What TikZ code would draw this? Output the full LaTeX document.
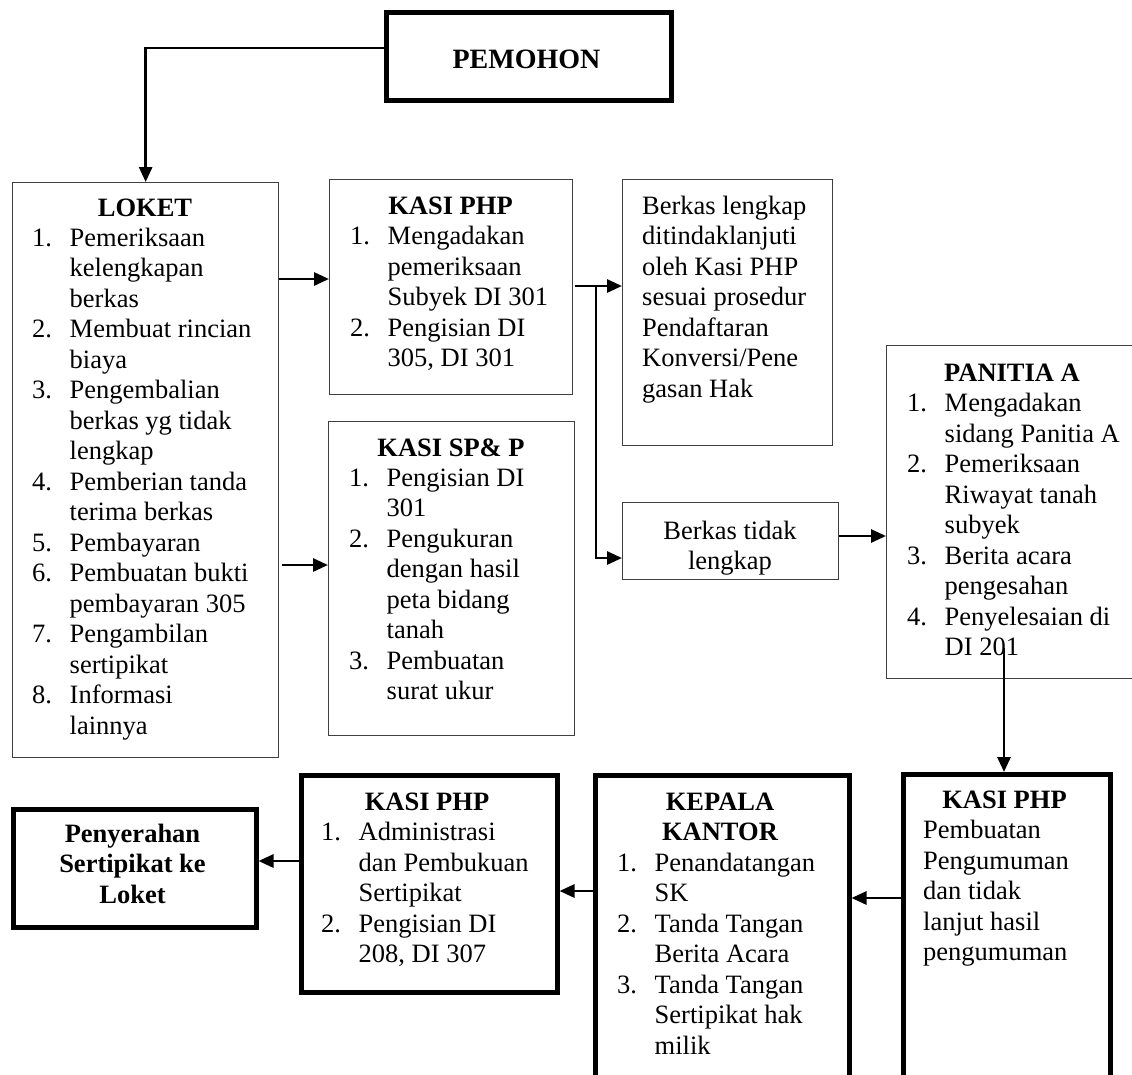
\documentclass[tikz,border=0pt]{standalone}
\usepackage{fontspec}
\setmainfont{Liberation Serif}
\usetikzlibrary{arrows.meta}
\newcommand{\mylist}[1]{\begin{tabular}[t]{@{}p{37.5pt}@{}l@{}}#1\end{tabular}}
\newcommand{\myleft}[1]{\begin{tabular}[t]{@{}l@{}}#1\end{tabular}}
\newcommand{\mycenter}[1]{\begin{tabular}[t]{@{}c@{}}#1\end{tabular}}
\begin{document}
\begin{tikzpicture}[x=1pt,y=-1pt,
  thinbox/.style={draw=black!75, line width=1.3pt, rectangle, anchor=north west, inner sep=0pt},
  thickbox/.style={draw=black, line width=4.5pt, rectangle, anchor=north west, inner sep=0pt},
  body/.style={font=\fontsize{26.5}{30.5}\selectfont, inner sep=0pt, anchor=base west},
  ttl/.style={font=\fontsize{26.5}{30.5}\selectfont\bfseries, inner sep=0pt, anchor=base},
  arr/.style={line width=2.8pt, -{Triangle[length=15pt,width=13pt]}},
  ln/.style={line width=2.8pt}
]
\useasboundingbox (0,0) rectangle (1132,1074);
\fill[white] (0,0) rectangle (1132,1074);
\clip (0,0) rectangle (1132,1074);

% boxes
\node[thickbox, line width=5pt, minimum width=285pt, minimum height=88pt] (pemohon) at (384,10) {};
\node[thinbox, minimum width=266pt, minimum height=575pt] (loket) at (12,182) {};
\node[thinbox, minimum width=243pt, minimum height=215pt] (kasi1) at (329,179) {};
\node[thinbox, minimum width=246pt, minimum height=314pt] (kasisp) at (328,421) {};
\node[thinbox, minimum width=210pt, minimum height=266pt] (lengkap) at (622,179) {};
\node[thinbox, minimum width=216pt, minimum height=77pt] (tidak) at (622,502) {};
\node[thinbox, minimum width=252pt, minimum height=333pt] (panitia) at (886,345) {};
\node[thickbox, minimum width=207pt, minimum height=340pt] (kasi3) at (901,772) {};
\node[thickbox, minimum width=254pt, minimum height=340pt] (kepala) at (593,773) {};
\node[thickbox, minimum width=256pt, minimum height=217pt] (kasi2) at (299,773) {};
\node[thickbox, minimum width=243pt, minimum height=118pt] (penyerahan) at (11,807) {};

% texts
\node[ttl, font=\fontsize{28}{32}\selectfont\bfseries] (tpem) at (526.5,68) {PEMOHON};

\node[ttl] (tlok) at (145,216) {LOKET};
\node[body] (llok) at (32,246) {\mylist{1. & Pemeriksaan\\ & kelengkapan\\ & berkas\\
2. & Membuat rincian\\ & biaya\\
3. & Pengembalian\\ & berkas yg tidak\\ & lengkap\\
4. & Pemberian tanda\\ & terima berkas\\
5. & Pembayaran\\
6. & Pembuatan bukti\\ & pembayaran 305\\
7. & Pengambilan\\ & sertipikat\\
8. & Informasi\\ & lainnya}};

\node[ttl] (tk1) at (450.5,214) {KASI PHP};
\node[body] (lk1) at (350,244.5) {\mylist{1. & Mengadakan\\ & pemeriksaan\\ & Subyek DI 301\\
2. & Pengisian DI\\ & 305, DI 301}};

\node[ttl] (tsp) at (451,456) {KASI SP\& P};
\node[body] (lsp) at (349,486) {\mylist{1. & Pengisian DI\\ & 301\\
2. & Pengukuran\\ & dengan hasil\\ & peta bidang\\ & tanah\\
3. & Pembuatan\\ & surat ukur}};

\node[body] (tlk) at (642,214) {\myleft{Berkas lengkap\\ ditindaklanjuti\\ oleh Kasi PHP\\ sesuai prosedur\\ Pendaftaran\\ Konversi/Pene\\ gasan Hak}};

\begin{scope}
\clip (622,502) rectangle (838,578.5);
\node[body, anchor=base] (ttd) at (730,539) {\mycenter{Berkas tidak\\ lengkap}};
\end{scope}

\node[ttl] (tpa) at (1012,381) {PANITIA A};
\node[body] (lpa) at (907,411.5) {\mylist{1. & Mengadakan\\ & sidang Panitia A\\
2. & Pemeriksaan\\ & Riwayat tanah\\ & subyek\\
3. & Berita acara\\ & pengesahan\\
4. & Penyelesaian di\\ & DI 201}};

\node[ttl] (tk3) at (1004.5,808) {KASI PHP};
\node[body] (lk3) at (923,838.5) {\myleft{Pembuatan\\ Pengumuman\\ dan tidak\\ lanjut hasil\\ pengumuman}};

\node[ttl] (tkp) at (720,810) {\mycenter{KEPALA\\ KANTOR}};
\node[body] (lkp) at (617,871) {\mylist{1. & Penandatangan\\ & SK\\
2. & Tanda Tangan\\ & Berita Acara\\
3. & Tanda Tangan\\ & Sertipikat hak\\ & milik}};

\node[ttl] (tk2) at (427,810) {KASI PHP};
\node[body] (lk2) at (321,840.5) {\mylist{1. & Administrasi\\ & dan Pembukuan\\ & Sertipikat\\
2. & Pengisian DI\\ & 208, DI 307}};

\node[ttl] (tpy) at (132.5,842) {\mycenter{Penyerahan\\ Sertipikat ke\\ Loket}};

% connector levels
\coordinate (c48) at (0,48);
\coordinate (c279) at (0,279);
\coordinate (c565) at (0,565);
\coordinate (c286) at (0,286);
\coordinate (c558) at (0,558);
\coordinate (c536) at (0,536);
\coordinate (c898) at (0,898);
\coordinate (c891) at (0,891);
\coordinate (c861) at (0,861);
\coordinate (br) at (596,286);
\coordinate (pstart) at (1004,648);
\coordinate (lkout) at (282,565);
\coordinate (k1out) at (575,286);

% connectors
\draw[arr] (pemohon.west |- c48) -| (loket.north);
\draw[arr] (loket.east |- c279) -- (kasi1.west |- c279);
\draw[arr] (lkout) -- (kasisp.west |- c565);
\draw[arr] (k1out) -- (lengkap.west |- c286);
\draw[arr] (br) |- (tidak.west |- c558);
\draw[arr] (tidak.east |- c536) -- (panitia.west |- c536);
\draw[arr] (pstart) -- (pstart |- kasi3.north);
\draw[arr] (kasi3.west |- c898) -- (kepala.east |- c898);
\draw[arr] (kepala.west |- c891) -- (kasi2.east |- c891);
\draw[arr] (kasi2.west |- c861) -- (penyerahan.east |- c861);
\end{tikzpicture}
\end{document}
